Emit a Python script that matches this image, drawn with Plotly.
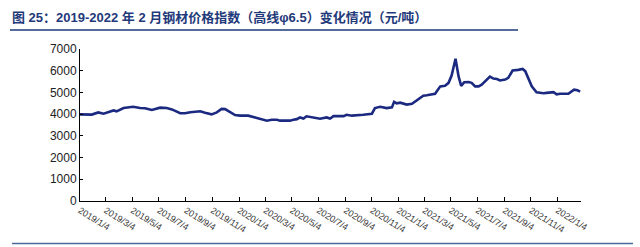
import plotly.graph_objects as go

dates = [
    "2019-01-04", "2019-01-31", "2019-02-15", "2019-02-27", "2019-03-22", "2019-03-29",
    "2019-04-14", "2019-05-06", "2019-05-22", "2019-06-02", "2019-06-18", "2019-07-07",
    "2019-07-22", "2019-08-03", "2019-08-22", "2019-09-02", "2019-09-14", "2019-10-07",
    "2019-10-18", "2019-11-02", "2019-11-14", "2019-11-25", "2019-12-03", "2019-12-26",
    "2020-01-06", "2020-01-25", "2020-02-10", "2020-02-25", "2020-03-08", "2020-03-19",
    "2020-03-31", "2020-04-07", "2020-04-30", "2020-05-08", "2020-05-16", "2020-05-23",
    "2020-05-31", "2020-06-07", "2020-06-19", "2020-07-08", "2020-07-23", "2020-07-31",
    "2020-08-08", "2020-08-31", "2020-09-07", "2020-09-19", "2020-10-15", "2020-11-04",
    "2020-11-11", "2020-11-23", "2020-12-08", "2020-12-20", "2020-12-25", "2020-12-31",
    "2021-01-08", "2021-01-23", "2021-02-04", "2021-02-19", "2021-03-02", "2021-03-10",
    "2021-03-21", "2021-03-29", "2021-04-10", "2021-04-21", "2021-04-29", "2021-05-06",
    "2021-05-15", "2021-05-22", "2021-05-28", "2021-06-04", "2021-06-14", "2021-06-21",
    "2021-06-29", "2021-07-07", "2021-07-14", "2021-07-22", "2021-07-29", "2021-08-02",
    "2021-08-10", "2021-08-18", "2021-08-25", "2021-09-06", "2021-09-13", "2021-09-23",
    "2021-10-06", "2021-10-16", "2021-10-22", "2021-11-06", "2021-11-17", "2021-11-25",
    "2021-12-03", "2021-12-10", "2021-12-26", "2022-01-02", "2022-01-10", "2022-01-29",
    "2022-02-11", "2022-02-19", "2022-02-25",
]
prices = [
    3990, 3980, 4080, 4020, 4170, 4130,
    4280, 4340, 4280, 4270, 4190, 4300,
    4280, 4220, 4040, 4040, 4090, 4130,
    4060, 3990, 4080, 4240, 4230, 3960,
    3930, 3930, 3850, 3770, 3700, 3740,
    3740, 3700, 3700, 3740, 3770, 3850,
    3800, 3900, 3850, 3790, 3850, 3800,
    3910, 3910, 3970, 3930, 3970, 4020,
    4280, 4340, 4280, 4310, 4570, 4500,
    4530, 4440, 4480, 4670, 4850, 4870,
    4900, 4940, 5280, 5310, 5440, 5780,
    6550, 5740, 5300, 5470, 5480, 5440,
    5280, 5280, 5360, 5510, 5620, 5730,
    5640, 5620, 5550, 5590, 5670, 6010,
    6040, 6080, 5980, 5280, 5010, 4980,
    4960, 4980, 5010, 4910, 4940, 4940,
    5130, 5100, 5040,
]

tick_dates = [
    "2019-01-04", "2019-03-04", "2019-05-04", "2019-07-04", "2019-09-04", "2019-11-04",
    "2020-01-04", "2020-03-04", "2020-05-04", "2020-07-04", "2020-09-04", "2020-11-04",
    "2021-01-04", "2021-03-04", "2021-05-04", "2021-07-04", "2021-09-04", "2021-11-04",
    "2022-01-04",
]
tick_labels = [
    "2019/1/4", "2019/3/4", "2019/5/4", "2019/7/4", "2019/9/4", "2019/11/4",
    "2020/1/4", "2020/3/4", "2020/5/4", "2020/7/4", "2020/9/4", "2020/11/4",
    "2021/1/4", "2021/3/4", "2021/5/4", "2021/7/4", "2021/9/4", "2021/11/4",
    "2022/1/4",
]
y_ticks = [0, 1000, 2000, 3000, 4000, 5000, 6000, 7000]

title_text = "图 25：2019-2022 年 2 月钢材价格指数（高线φ6.5）变化情况（元/吨）"

fig = go.Figure()
fig.add_trace(go.Scatter(
    x=dates, y=prices, mode="lines",
    line=dict(color="#1b2a80", width=2.6),
    showlegend=False, hoverinfo="skip",
))

W, H = 640, 247
L, R, T, B = 80, 59, 49, 46
pw, ph = W - L - R, H - T - B

def px_x(p):
    return (p - L) / pw

def px_y(p):
    return (H - B - p) / ph

fig.update_layout(
    width=W, height=H,
    margin=dict(l=L, r=R, t=T, b=B),
    paper_bgcolor="white", plot_bgcolor="white",
    font=dict(family="Liberation Sans, Arial, Noto Sans CJK SC", color="#222222"),
    title=dict(
        text="<b>" + title_text + "</b>",
        xref="container", yref="container",
        x=12 / W, y=1 - 17 / H, xanchor="left", yanchor="middle",
        font=dict(family="Liberation Sans, Noto Sans CJK SC", size=13, color="#1f3a7a"),
    ),
    xaxis=dict(
        type="date",
        range=["2019-01-04", "2022-02-27"],
        tickvals=tick_dates, ticktext=tick_labels,
        tickangle=32,
        tickfont=dict(size=9, color="#333333"),
        showgrid=False, zeroline=False,
        showline=True, linecolor="black", linewidth=1,
        ticks="inside", ticklen=4, tickcolor="black",
    ),
    yaxis=dict(
        range=[0, 7000],
        tickvals=y_ticks,
        tickfont=dict(size=12, color="#222222"),
        showgrid=False, zeroline=False,
        showline=True, linecolor="black", linewidth=1,
        ticks="inside", ticklen=3, tickcolor="black",
    ),
    shapes=[
        dict(type="line", xref="paper", yref="paper",
             x0=px_x(10), x1=px_x(518), y0=px_y(30), y1=px_y(30),
             line=dict(color="#1f3a7a", width=1.5)),
        dict(type="line", xref="paper", yref="paper",
             x0=px_x(12), x1=px_x(633), y0=px_y(243.5), y1=px_y(243.5),
             line=dict(color="#4a6a9a", width=1.5)),
    ],
)

fig.write_html("out.html")
